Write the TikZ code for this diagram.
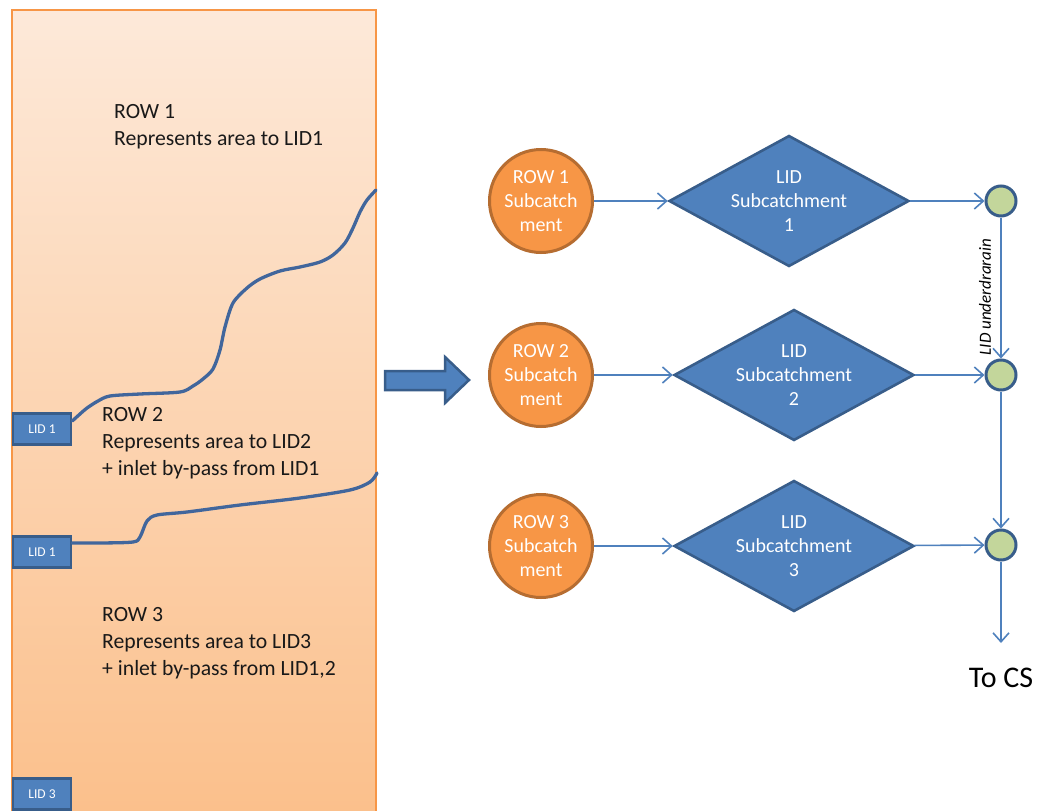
\documentclass[tikz,border=0pt]{standalone}
\usepackage{fontspec}
\setmainfont{Carlito}
\usetikzlibrary{shapes.geometric,arrows.meta,calc}
\definecolor{lidblue}{HTML}{4F81BD}
\definecolor{lidborder}{HTML}{385D8A}
\definecolor{curveblue}{HTML}{41669C}
\definecolor{orangefill}{HTML}{F79646}
\definecolor{orangeborder}{HTML}{B66D31}
\definecolor{greenfill}{HTML}{C3D69B}
\definecolor{paneltop}{HTML}{FDE9D9}
\definecolor{panelbot}{HTML}{FBBF8A}
\definecolor{panelline}{HTML}{F79646}
\newcommand\myfs[2]{\fontsize{#1}{#2}\selectfont}
\begin{document}
\begin{tikzpicture}[x=1pt,y=-1pt,
 lidbox/.style={draw=lidborder, fill=lidblue, line width=2.5pt, minimum width=58pt, minimum height=31pt, inner sep=0pt, text=white, font=\myfs{13.5}{16}},
 rowtext/.style={anchor=west, align=left, inner sep=0pt, font=\myfs{21.7}{27}, text=black!90},
 sub/.style={circle, draw=orangeborder, fill=orangefill, line width=3pt, minimum size=103pt, inner sep=0pt, text=white, align=center, font=\myfs{20}{24}},
 dia/.style={diamond, draw=lidborder, fill=lidblue, line width=2.6pt, minimum width=240pt, minimum height=131pt, inner sep=0pt},
 diatext/.style={text=white, align=center, inner sep=0pt, font=\myfs{20}{24}},
 junc/.style={circle, draw=lidborder, fill=greenfill, line width=3pt, minimum size=30pt, inner sep=0pt},
 flow/.style={draw=lidblue, line width=1.6pt, -{Straight Barb[length=9pt,width=16pt]}},
 curve/.style={draw=curveblue, line width=3.3pt, line cap=round, line join=round},
 blockarrow/.style={fill=lidblue, draw=lidborder, line width=2.5pt, line join=miter}
]
\useasboundingbox (0,0) rectangle (1039,811);
\clip (0,0) rectangle (1039,811);
\fill[white] (0,0) rectangle (1039,811);

% left panel
\shade[top color=paneltop, bottom color=panelbot] (12,10) rectangle (376,830);
\draw[panelline, line width=2pt] (12,830) -- (12,10) -- (376,10) -- (376,830);

\node[rowtext] (r1) at (114,126.5) {ROW 1\\Represents area to LID1};
\node[rowtext] (r2) at (102,443) {ROW 2\\Represents area to LID2\\+ inlet by-pass from LID1};
\node[rowtext] (r3) at (102,643) {ROW 3\\Represents area to LID3\\+ inlet by-pass from LID1,2};

\node[lidbox] (lid1) at (42,429) {LID 1};
\node[lidbox] (lid2) at (42,552) {LID 1};
\node[lidbox] (lid3) at (42,794) {LID 3};

\draw[curve] plot[smooth, tension=0.5] coordinates {($(lid1.east)+(0,-8)$) (80,414) (87,408) (98,401) (110,396) (140,394) (180,392) (193,386) (203,379) (213,369) (220,350) (225,327) (233,303) (247,288) (260,279) (280,271) (300,267) (320,262) (333,255) (345,243) (353,228) (360,212) (367,200) (376,190)};
\draw[curve] plot[smooth, tension=0.5] coordinates {($(lid2.east)+(0,-9)$) (100,543) (133,542) (140,537) (147,521) (157,515) (187,512) (240,505) (300,498) (350,490) (370,482) (377,473)};

% block arrow
\draw[blockarrow] (385,371) -- (445,371) -- (445,357) -- (469,380) -- (445,403) -- (445,390) -- (385,390) -- cycle;

% flow diagram
\node[sub] (s1) at (541,201) {ROW 1\\Subcatch\\ment};
\node[sub] (s2) at (541,375) {ROW 2\\Subcatch\\ment};
\node[sub] (s3) at (541,546) {ROW 3\\Subcatch\\ment};

\node[dia] (d1) at (789,201) {};
\node[diatext] (t1) at (d1) {LID\\Subcatchment\\1};
\node[dia] (d2) at (794,375) {};
\node[diatext] (t2) at (d2) {LID\\Subcatchment\\2};
\node[dia] (d3) at (794,546) {};
\node[diatext] (t3) at (d3) {LID\\Subcatchment\\3};

\node[junc] (j1) at (1001,201) {};
\node[junc] (j2) at (1001,375) {};
\node[junc] (j3) at (1001,545) {};
\coordinate (out) at (1001,643);
\node[font=\myfs{30}{36}, inner sep=0pt] (tocs) at (1001,678) {To CS};

\draw[flow] (s1) -- (d1);
\draw[flow] (s2) -- (d2);
\draw[flow] (s3) -- (d3);
\draw[flow] (d1) -- (j1);
\draw[flow] (d2) -- (j2);
\draw[flow] (d3) -- (j3);
\draw[flow] (j1) -- (j2);
\draw[flow] (j2) -- (j3);
\draw[flow] (j3) -- (out);
\node[rotate=90, inner sep=0pt, font=\myfs{17}{20}\itshape] (ul) at (985,297) {LID underdrarain};
\end{tikzpicture}
\end{document}
